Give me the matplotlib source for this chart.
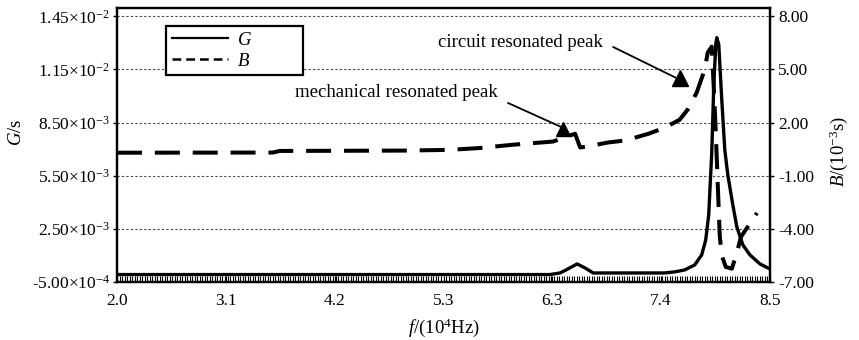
import matplotlib.pyplot as plt
import numpy as np
from matplotlib.lines import Line2D
from matplotlib.ticker import MultipleLocator

plt.rcParams['font.family'] = ['Liberation Serif', 'DejaVu Serif']
plt.rcParams['mathtext.fontset'] = 'custom'
plt.rcParams['mathtext.rm'] = 'Liberation Serif'
plt.rcParams['mathtext.it'] = 'Liberation Serif:italic'

# frequency in 10^4 Hz, G in 10^-3 S
f_G = [2.00, 6.31, 6.41, 6.47, 6.58, 6.66, 6.74, 7.45, 7.55, 7.65, 7.75, 7.82,
       7.86, 7.89, 7.92, 7.94, 7.96, 7.97, 7.99, 8.02, 8.05, 8.08, 8.13, 8.17,
       8.23, 8.30, 8.40, 8.48]
G_mS = [-0.08, -0.08, 0.01, 0.18, 0.52, 0.29, 0.01, 0.01, 0.07, 0.18, 0.46, 1.03,
        1.87, 3.29, 6.79, 10.53, 12.90, 13.30, 12.90, 9.79, 6.96, 5.55, 3.85, 2.61,
        1.59, 1.03, 0.52, 0.29]

# B in 10^-3 S
f_B = [2.00, 3.55, 3.62, 4.85, 5.30, 5.60, 5.94, 6.18, 6.34, 6.48, 6.56, 6.61,
       6.66, 6.89, 7.06, 7.29, 7.45, 7.60, 7.68, 7.77, 7.85, 7.88, 7.92, 7.94,
       7.96, 7.98, 8.00, 8.02, 8.06, 8.12, 8.17, 8.21, 8.30, 8.37]
B_mS = [0.30, 0.31, 0.40, 0.42, 0.46, 0.56, 0.75, 0.86, 0.93, 1.22, 1.37, 0.60,
        0.63, 0.88, 0.99, 1.37, 1.71, 2.16, 2.73, 3.69, 4.99, 5.95, 6.29, 4.00,
        1.50, -1.50, -4.40, -5.50, -6.15, -6.25, -5.36, -4.46, -3.70, -3.10]

x_ticks = np.linspace(2.0, 8.5, 7)
x_labels = ['2.0', '3.1', '4.2', '5.3', '6.3', '7.4', '8.5']
g_ticks = [-5e-4, 2.5e-3, 5.5e-3, 8.5e-3, 1.15e-2, 1.45e-2]
g_labels = [r'-5.00$\times$10$^{-4}$', r'2.50$\times$10$^{-3}$', r'5.50$\times$10$^{-3}$',
            r'8.50$\times$10$^{-3}$', r'1.15$\times$10$^{-2}$', r'1.45$\times$10$^{-2}$']
b_ticks = [-7, -4, -1, 2, 5, 8]
b_labels = ['-7.00', '-4.00', '-1.00', '2.00', '5.00', '8.00']

fs = 12.5
fs_big = 13.5

fig = plt.figure(figsize=(8.59, 3.40), dpi=100)
ax = fig.add_axes([117 / 859, 1 - 282 / 340, 653 / 859, 274.5 / 340])
ax2 = ax.twinx()

ax.grid(axis='y', color='#444444', linestyle=(0, (2, 2)), linewidth=0.8)
ax.set_axisbelow(True)

ax.plot(f_G, np.array(G_mS) * 1e-3, color='black', linewidth=2.4, solid_joinstyle='round')
ax2.plot(f_B, B_mS, color='black', linewidth=2.9, linestyle=(0, (6.2, 3.2)))

ax.set_xlim(2.0, 8.5)
ax.set_ylim(-5e-4, 1.5e-2)
ax2.set_ylim(-7, 8.5)

ax.set_xticks(x_ticks)
ax.set_xticklabels(x_labels, fontsize=fs)
ax.xaxis.set_minor_locator(MultipleLocator(0.025))
ax.tick_params(axis='x', which='both', direction='in', length=4, width=0.8, pad=8)
ax.set_yticks(g_ticks)
ax.set_yticklabels(g_labels, fontsize=fs)
ax.tick_params(axis='y', direction='out', length=3, width=1, pad=2)
ax2.set_yticks(b_ticks)
ax2.set_yticklabels(b_labels, fontsize=fs)
ax2.tick_params(axis='y', direction='out', length=3, width=1, pad=3)

for a in (ax, ax2):
    for sp in a.spines.values():
        sp.set_linewidth(1.6)

ax.set_xlabel(r'$f$/(10$^4$Hz)', fontsize=fs_big)
ax.xaxis.set_label_coords(0.5, -0.125)
ax.set_ylabel(r'$G$/s', fontsize=fs_big)
ax.yaxis.set_label_coords(-0.141, 0.546)
ax2.set_ylabel(r'$B$/(10$^{-3}$s)', fontsize=fs_big)
ax2.yaxis.set_label_coords(1.088, 0.477)

# annotations
ax2.text(0.744, 0.871, 'circuit resonated peak', transform=ax.transAxes,
         ha='right', va='center', fontsize=fs_big)
ax2.plot([0.760, 0.855], [0.856, 0.745], color='black', linewidth=1.3, transform=ax.transAxes)
ax2.plot([0.862], [0.742], marker='^', markersize=11, color='black', transform=ax.transAxes)

ax2.text(0.583, 0.689, 'mechanical resonated peak', transform=ax.transAxes,
         ha='right', va='center', fontsize=fs_big)
ax2.plot([0.599, 0.680], [0.652, 0.565], color='black', linewidth=1.3, transform=ax.transAxes)
ax2.plot([0.683], [0.557], marker='^', markersize=10, color='black', transform=ax.transAxes)

handles = [Line2D([], [], color='black', linewidth=1.6),
           Line2D([], [], color='black', linewidth=1.8, linestyle=(0, (3.5, 2)))]
leg = ax2.legend(handles, ['$G$', '$B$'], loc='upper left', mode='expand',
                 bbox_to_anchor=(0.075, 0.8326, 0.21, 0.1), fontsize=fs_big,
                 handlelength=3.0, handletextpad=0.5, borderpad=0.3, labelspacing=0.2,
                 fancybox=False, framealpha=1, borderaxespad=0)
leg.get_frame().set_edgecolor('black')
leg.get_frame().set_linewidth(1.6)

fig.savefig('out.png', dpi=100)
